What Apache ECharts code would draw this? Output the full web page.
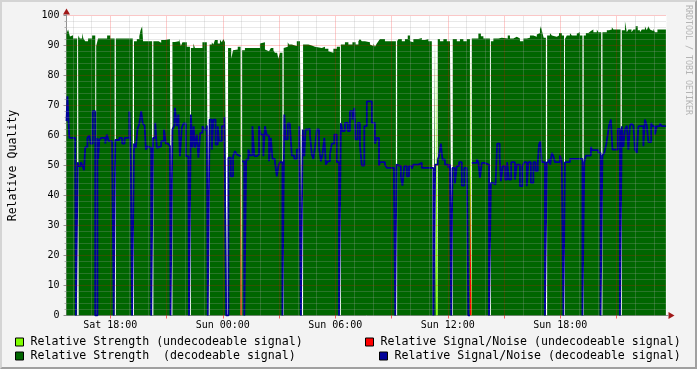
<!DOCTYPE html>
<html><head><meta charset="utf-8">
<script src="https://cdn.jsdelivr.net/npm/echarts@6/dist/echarts.min.js"></script>
<style>
html,body{margin:0;padding:0;background:#f3f3f3;}
#wrap{position:relative;width:697px;height:369px;overflow:hidden;}
#chart{width:697px;height:369px;}
#frame{position:absolute;left:0;top:0;width:697px;height:369px;box-sizing:border-box;border-top:2px solid #d4d4d4;border-left:2px solid #d4d4d4;border-right:2px solid #a0a0a0;border-bottom:2px solid #a0a0a0;pointer-events:none;}
</style></head><body>
<div id="wrap"><div id="chart"></div><div id="frame"></div></div>
<script>
// Time unit: minutes since Saturday 00:00
const T_START = 940, T_END = 2860, DATA_END = 2858;
const X_LABEL_TIMES = [1080, 1440, 1800, 2160, 2520];
const X_MAJOR_TIMES = [1080, 1260, 1440, 1620, 1800, 1980, 2160, 2340, 2520, 2700];
const Y_MIN = 0, Y_MAX = 100, Y_STEP = 10, Y_MINOR_STEP = 2;

const NAME_STR_UNDEC = 'Relative Strength (undecodeable signal)';
const NAME_STR_DEC = 'Relative Strength  (decodeable signal)';
const NAME_SNR_UNDEC = 'Relative Signal/Noise (undecodeable signal)';
const NAME_SNR_DEC = 'Relative Signal/Noise (decodeable signal)';

// runs: [start time, value]; value holds until the next run; null = unknown
const strengthDecodeable = [[940,94],[945,95.3],[951,93],[956,93.4],[961,92.3],[974,null],[977,92.3],[979,93.3],[982,92.3],[990,94.2],[994,92.3],[1000,91.4],[1009,92.3],[1022,93.3],[1032,null],[1035,89.8],[1041,92.3],[1070,93.3],[1080,92.3],[1094,null],[1098,92.3],[1123,91.8],[1128,92.3],[1152,null],[1156,91.4],[1165,92.2],[1173,93.1],[1177,95.1],[1182,96.4],[1185,91.4],[1214,null],[1218,91.4],[1235,90.9],[1243,91.8],[1255,92.2],[1271,91.8],[1274,null],[1279,91.2],[1287,90.9],[1293,91.4],[1300,92.2],[1306,89.8],[1311,91.1],[1325,89.6],[1335,null],[1338,89.2],[1346,90.7],[1351,89.2],[1375,91.1],[1389,89.6],[1394,null],[1398,90.3],[1405,91.1],[1410,90.3],[1415,91.8],[1424,90.7],[1431,92],[1437,91.1],[1442,92.2],[1447,91.1],[1453,null],[1457,89.2],[1467,85.6],[1473,88.4],[1479,88.7],[1488,89.6],[1497,null],[1502,88.4],[1511,89.2],[1559,90.7],[1565,91.1],[1575,88.7],[1581,88.1],[1588,88.7],[1594,89.2],[1602,88.4],[1607,87.6],[1614,87],[1618,85.6],[1623,87.6],[1631,null],[1635,89.2],[1641,89.6],[1648,91.1],[1652,90.3],[1661,89.8],[1677,91.4],[1687,90.3],[1693,null],[1697,90.3],[1714,90],[1725,89.6],[1735,89.2],[1757,88.7],[1762,89.6],[1767,88.9],[1778,88.1],[1783,87.6],[1794,88.9],[1805,89.6],[1815,null],[1818,90.3],[1831,91.1],[1842,90.3],[1855,91.1],[1865,90.3],[1874,91.4],[1879,92.2],[1885,91.4],[1895,91.1],[1911,90.3],[1917,89.8],[1922,90.7],[1927,89.6],[1933,90.7],[1938,91.4],[1943,92.2],[1959,91.4],[1994,null],[1998,91.4],[2002,92.2],[2013,91.4],[2023,92.2],[2032,93.3],[2039,91.4],[2045,91.1],[2050,92.2],[2066,92.5],[2077,91.8],[2087,92.2],[2098,91.4],[2109,90.7],[2112,null],[2116,92.2],[2122,null],[2128,92.2],[2135,91.4],[2146,92.2],[2157,91.4],[2167,92.2],[2173,null],[2176,92.2],[2189,91.4],[2199,92.2],[2210,91.4],[2221,92.2],[2231,null],[2237,92.3],[2258,94],[2266,93.1],[2274,92.3],[2295,null],[2298,91.4],[2306,92.3],[2322,92.6],[2333,92.3],[2352,93.3],[2359,92.3],[2370,92.9],[2381,92.3],[2391,91.4],[2402,92.3],[2413,92.6],[2423,93.3],[2434,92.9],[2445,93.7],[2450,94.2],[2455,95.3],[2458,96.4],[2463,94.2],[2467,92.6],[2474,null],[2478,93.3],[2487,94.2],[2493,93.3],[2498,92.9],[2509,93.3],[2516,94.2],[2525,93.3],[2532,null],[2535,92.2],[2541,93.3],[2551,94.2],[2557,93.3],[2573,94],[2578,94.4],[2583,93.3],[2591,null],[2595,93.3],[2602,94.2],[2610,94.8],[2618,95.3],[2626,94.4],[2637,95.3],[2642,94.4],[2651,null],[2655,94.4],[2669,95.1],[2676,95.3],[2685,96.2],[2690,95.3],[2713,null],[2717,95.1],[2727,98.1],[2733,94.4],[2738,95.3],[2748,94.4],[2754,95.3],[2761,96.4],[2768,95.1],[2775,94.4],[2781,95.3],[2791,96.4],[2797,95.1],[2802,96.4],[2807,95.3],[2812,94.8],[2818,95.6],[2823,94.4],[2831,95.3]];

const strengthUndecodeable = [[940,null],[1497,89.2],[1502,null],[2122,92.3],[2128,null],[2231,92.3],[2237,null]];

const snrUndecodeable = [[940,null],[1497,54.2],[1501,null],[2231,50.3],[2236,null]];

const snrDecodeable = [[940,64.8],[943,73.1],[949,59.2],[968,51.1],[970,0],[976,51.1],[979,49.8],[986,51.1],[992,49.8],[996,48.4],[1000,56.1],[1007,59.2],[1013,60],[1017,57.3],[1024,68.1],[1032,0],[1039,59.2],[1041,52.2],[1045,58.5],[1051,59.2],[1064,57.3],[1069,60.3],[1075,58.1],[1086,57.3],[1091,0],[1096,58.5],[1109,59.2],[1118,57.3],[1126,59.2],[1141,68.1],[1146,50.3],[1150,0],[1156,57.3],[1162,55.9],[1167,62],[1173,64],[1179,68.1],[1184,64],[1190,63.3],[1194,55.3],[1199,56.4],[1205,55.9],[1211,0],[1217,59.2],[1224,64.2],[1229,55.9],[1235,56.4],[1243,58.1],[1252,62],[1258,57.3],[1265,56.7],[1271,56.4],[1273,0],[1279,62],[1285,63.3],[1287,69.2],[1293,63.1],[1298,67],[1303,53.1],[1309,62.6],[1314,64],[1322,53.1],[1330,52.2],[1332,0],[1338,67],[1343,55.9],[1347,63.1],[1351,55.9],[1357,60.3],[1362,52.6],[1368,60.9],[1375,63.1],[1381,62],[1389,63.3],[1392,0],[1398,65.3],[1405,55.3],[1410,65.3],[1417,57],[1424,63.1],[1428,58.1],[1437,63.1],[1445,66.2],[1451,0],[1458,52.6],[1466,46.4],[1473,53.1],[1479,54.8],[1485,53.7],[1490,53.1],[1497,null],[1502,51.4],[1509,0],[1515,52],[1522,55.3],[1527,53.4],[1535,63.1],[1541,53.1],[1549,53.7],[1556,63.1],[1562,60.3],[1570,53.1],[1575,63.1],[1581,60],[1588,51.4],[1594,59.2],[1599,52.2],[1607,51.1],[1613,46.4],[1618,49.8],[1623,51.1],[1631,0],[1637,67],[1641,58.7],[1648,64],[1655,63.3],[1661,53.3],[1669,52.2],[1677,55.3],[1684,63.1],[1690,0],[1696,62],[1701,53.1],[1705,62],[1712,62.2],[1719,60.3],[1725,53.7],[1730,52.2],[1735,55.9],[1741,62],[1748,55.9],[1754,51.4],[1759,53.7],[1765,59.2],[1770,50.3],[1776,51.4],[1783,53.7],[1789,57.3],[1797,60.3],[1805,51.1],[1812,0],[1818,64.2],[1823,61.5],[1831,64.2],[1840,61.5],[1847,68.1],[1855,65.3],[1861,69.2],[1865,58.7],[1872,64.2],[1879,56.7],[1885,50],[1893,63.1],[1901,71.4],[1917,64.2],[1927,57.3],[1933,59.2],[1940,50],[1943,51.1],[1959,50.3],[1965,49.2],[1988,43.7],[1992,0],[1996,50.3],[2002,49.8],[2010,46.4],[2015,43.3],[2021,49.8],[2029,46.4],[2036,49.8],[2045,48.9],[2050,50.3],[2066,50.9],[2077,49.2],[2114,0],[2120,50.3],[2128,52],[2132,53.1],[2138,57.3],[2143,52],[2151,50.3],[2162,49.2],[2167,50.3],[2171,0],[2175,49.2],[2183,44],[2189,49.8],[2196,51.1],[2205,43.3],[2213,49.2],[2221,49.8],[2226,0],[2231,null],[2237,50.9],[2253,52],[2258,51.1],[2263,45.9],[2269,50.9],[2277,50.3],[2292,0],[2298,44.2],[2305,43.7],[2313,44.2],[2318,57.3],[2326,53.1],[2330,44.8],[2336,49.8],[2343,45.3],[2350,51.1],[2356,45.3],[2363,51.1],[2375,45.3],[2381,50.3],[2391,43.1],[2399,49.8],[2405,51.1],[2413,43.1],[2418,51.1],[2426,44.2],[2434,51.1],[2441,48.1],[2448,50.9],[2452,57],[2456,58.1],[2461,51.1],[2471,0],[2477,51.1],[2484,52.2],[2488,50.3],[2493,54.2],[2498,53.1],[2503,51.1],[2519,53.3],[2525,51.1],[2530,0],[2535,51.1],[2551,52.2],[2591,0],[2597,51.1],[2602,53.3],[2618,56.2],[2622,55.1],[2642,54.2],[2649,0],[2655,53.3],[2661,54.2],[2667,57],[2672,60.3],[2676,63.3],[2682,65.3],[2687,55.3],[2704,62.2],[2711,0],[2717,63.1],[2722,56.2],[2727,62],[2733,63.3],[2738,55.3],[2743,63.3],[2748,64],[2754,63.3],[2759,55.3],[2765,54.2],[2770,63.1],[2786,56.4],[2791,65.3],[2797,63.3],[2802,57.8],[2811,64.2],[2815,63.1],[2823,60.3],[2829,63.1],[2839,64],[2845,63.1]];

const C_LIGHT = '#80ff00', C_DARK = '#006600', C_RED = '#ff0000', C_BLUE = '#000099';
const GRID_MINOR = 'rgba(170,170,170,0.5)', GRID_MAJOR = 'rgba(255,0,0,0.4)';
const MONO = 'DejaVu Sans Mono';

function toSteps(runs, end) {
  const out = [];
  for (let i = 0; i < runs.length; i++) {
    const t = runs[i][0], v = runs[i][1];
    const t2 = i + 1 < runs.length ? runs[i + 1][0] : end;
    if (v === null) { out.push([t, null]); continue; }
    out.push([t, v]); out.push([t2, v]);
  }
  return out;
}
function fmtTime(m) {
  const day = m < 1440 ? 'Sat' : 'Sun';
  const h = Math.floor(m / 60) % 24, mm = Math.round(m % 60);
  return day + ' ' + String(h).padStart(2, '0') + ':' + String(mm).padStart(2, '0');
}

const gridLines = [];
for (let t = Math.ceil(T_START / 60) * 60; t < T_END; t += 60) {
  gridLines.push({ xAxis: t, lineStyle: { color: X_MAJOR_TIMES.includes(t) ? GRID_MAJOR : GRID_MINOR, type: [1, 1], width: 1 } });
}
for (let v = Y_MINOR_STEP; v <= Y_MAX; v += Y_MINOR_STEP) {
  gridLines.push({ yAxis: v, lineStyle: { color: v % Y_STEP === 0 ? GRID_MAJOR : GRID_MINOR, type: [1, 1], width: 1 } });
}

const chart = echarts.init(document.getElementById('chart'), null, { renderer: 'canvas' });
const legendCommon = {
  orient: 'horizontal', itemWidth: 8, itemHeight: 8, itemGap: 0, padding: 0, selectedMode: false,
  icon: 'rect',
  itemStyle: { borderColor: '#000', borderWidth: 1 },
  textStyle: { fontFamily: MONO, fontSize: 11.6, color: '#000', padding: [0, 0, 0, 2] }
};
const areaSeries = (name, runs, color, z) => ({
  type: 'line', name, data: toSteps(runs, DATA_END), color,
  symbol: 'none', showSymbol: false, connectNulls: false, silent: true, animation: false, z,
  lineStyle: { width: 0, color }, areaStyle: { color, opacity: 1 }
});

chart.setOption({
  backgroundColor: '#f3f3f3',
  animation: false,
  grid: { left: 66.5, top: 15.5, width: 600, height: 300, outerBoundsMode: 'none', containLabel: false, show: true, backgroundColor: '#ffffff', borderWidth: 0 },
  xAxis: {
    type: 'value', min: T_START, max: T_END,
    axisLine: { show: true, lineStyle: { color: '#909090', width: 1 } },
    axisTick: { show: true, customValues: X_MAJOR_TIMES, length: 3, lineStyle: { color: 'rgba(255,0,0,0.6)' } },
    axisLabel: { customValues: X_LABEL_TIMES, formatter: fmtTime, fontFamily: MONO, fontSize: 10, color: '#000', margin: 5 },
    splitLine: { show: false }
  },
  yAxis: {
    type: 'value', min: Y_MIN, max: Y_MAX, interval: Y_STEP,
    axisLine: { show: true, lineStyle: { color: '#909090', width: 1 } },
    axisTick: { show: true, length: 3, lineStyle: { color: '#909090' } },
    minorTick: { show: true, splitNumber: 5, length: 2, lineStyle: { color: '#b0b0b0' } },
    axisLabel: { fontFamily: MONO, fontSize: 10, color: '#000', margin: 7 },
    splitLine: { show: false },
    name: 'Relative Quality', nameLocation: 'middle', nameGap: 48,
    nameTextStyle: { fontFamily: MONO, fontSize: 11.6, color: '#000' }
  },
  legend: [
    Object.assign({ left: 15, top: 336, data: [{ name: NAME_STR_UNDEC, icon: 'rect' }] }, legendCommon),
    Object.assign({ left: 15, top: 350, data: [{ name: NAME_STR_DEC, icon: 'rect' }] }, legendCommon),
    Object.assign({ left: 365, top: 336, data: [{ name: NAME_SNR_UNDEC, icon: 'rect' }] }, legendCommon),
    Object.assign({ left: 379, top: 350, data: [{ name: NAME_SNR_DEC, icon: 'rect' }] }, legendCommon)
  ],
  series: [
    areaSeries(NAME_STR_UNDEC, strengthUndecodeable, C_LIGHT, 2),
    areaSeries(NAME_STR_DEC, strengthDecodeable, C_DARK, 2),
    areaSeries(NAME_SNR_UNDEC, snrUndecodeable, C_RED, 3),
    {
      type: 'line', name: 'grid', data: [[T_START, null]], silent: true, symbol: 'none', z: 3,
      markLine: { silent: true, symbol: ['none', 'none'], label: { show: false }, animation: false, data: gridLines }
    },
    {
      type: 'line', name: NAME_SNR_DEC, data: toSteps(snrDecodeable, DATA_END), color: C_BLUE,
      symbol: 'none', showSymbol: false, connectNulls: false, silent: true, animation: false, z: 4,
      lineStyle: { width: 1.8, color: C_BLUE }
    }
  ],
  graphic: [
    { type: 'polygon', silent: true, z: 100, shape: { points: [[66.5, 8.5], [63, 14.5], [70, 14.5]] }, style: { fill: '#a01818' } },
    { type: 'line', silent: true, z: 100, shape: { x1: 66.5, y1: 14, x2: 66.5, y2: 16 }, style: { stroke: '#909090', lineWidth: 1 } },
    { type: 'polygon', silent: true, z: 100, shape: { points: [[674.5, 315.5], [668.5, 312], [668.5, 319]] }, style: { fill: '#a01818' } },
    { type: 'line', silent: true, z: 100, shape: { x1: 666, y1: 315.5, x2: 669, y2: 315.5 }, style: { stroke: '#909090', lineWidth: 1 } },
    { type: 'text', silent: true, x: 688, y: 5, rotation: -Math.PI / 2,
      style: { text: 'RRDTOOL / TOBI OETIKER', font: '8.3px "DejaVu Sans Mono"', fill: '#b4b4b4', align: 'left', verticalAlign: 'middle' } }
  ]
});
</script>
</body></html>
